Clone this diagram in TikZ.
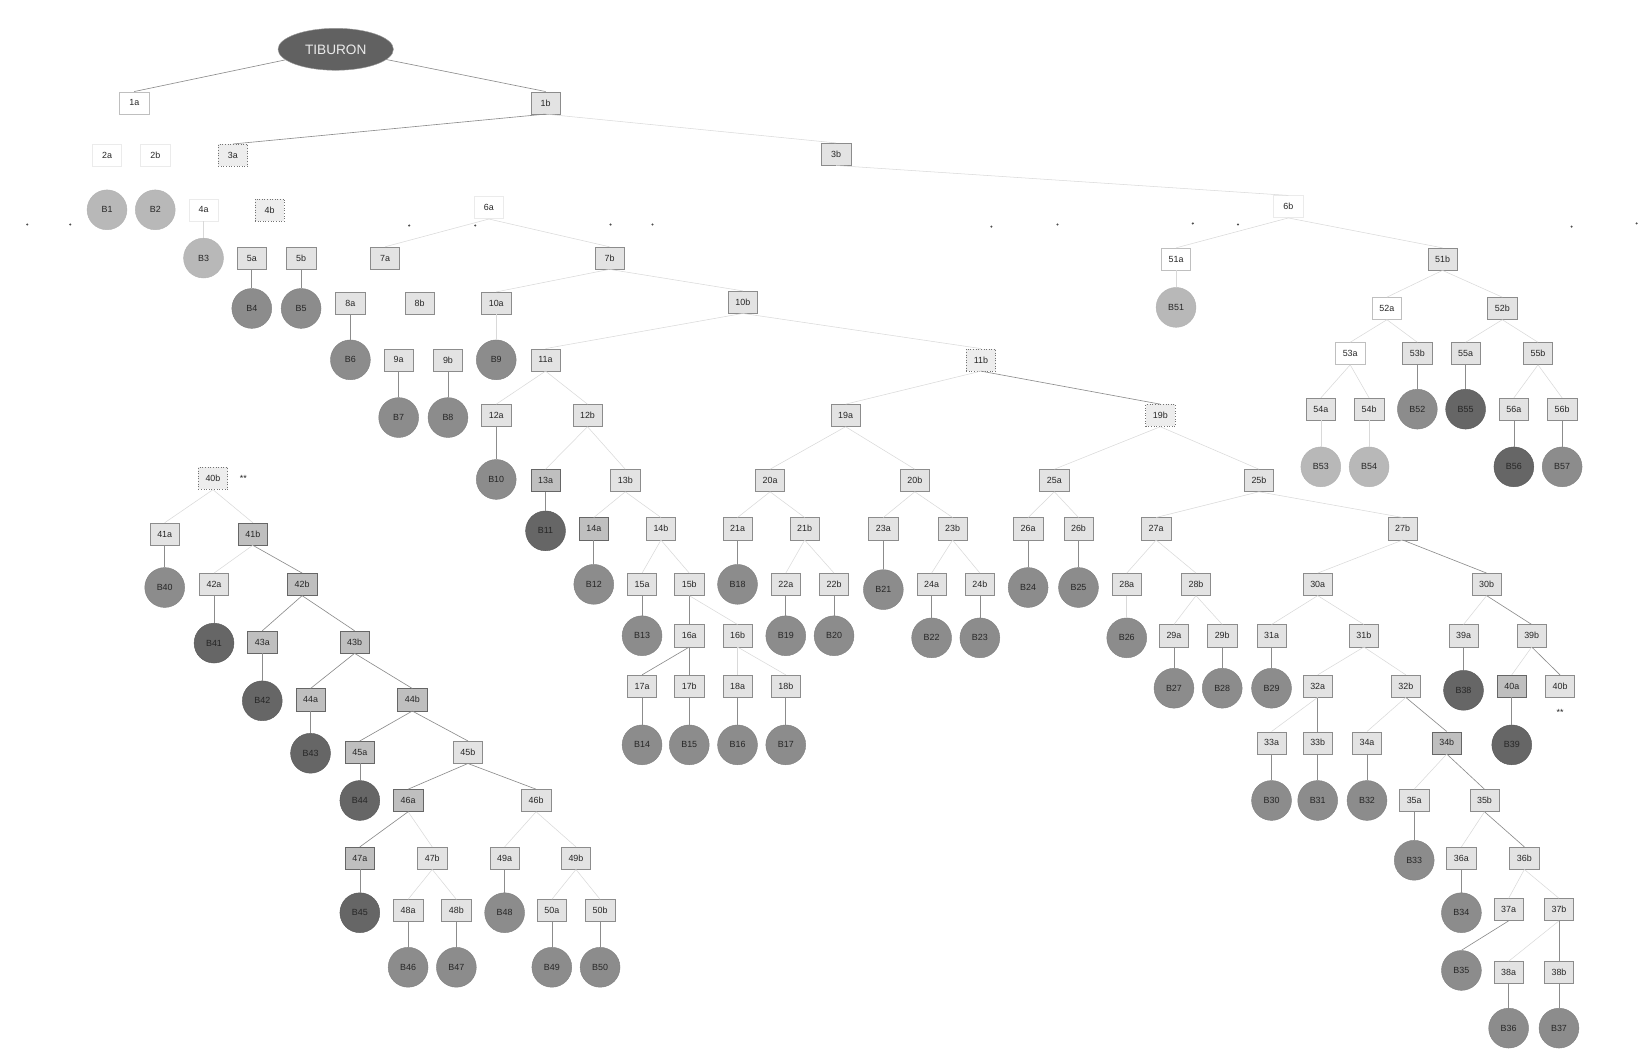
\documentclass[tikz,border=0pt]{standalone}
\usepackage{fontspec}
\setmainfont{Liberation Sans}
\usetikzlibrary{shapes.geometric}
\begin{document}
\begin{tikzpicture}[x=1pt,y=-1pt,
  lbl/.style={font=\fontsize{8.5}{9}\selectfont, text=black!85},
  bx/.style={lbl, rectangle, draw=black!45, fill=black!11, line width=0.5pt, minimum width=28pt, minimum height=21pt, inner sep=0pt},
  bxm/.style={bx, fill=black!25, draw=black!60},
  bxw/.style={bx, fill=white, draw=black!25},
  bxf/.style={bx, fill=white, draw=black!8},
  bxdot/.style={bx, fill=black!7, draw=black!55, dotted},
  leaf/.style={lbl, circle, minimum size=38pt, inner sep=0pt, fill=black!45, draw=black!50, line width=0.4pt},
  leafl/.style={leaf, fill=black!28, draw=black!30},
  leafd/.style={leaf, fill=black!60, draw=black!65},
  ln/.style={draw=black!15, line width=0.5pt},
  lnv/.style={draw=black!45, line width=0.6pt},
  dot/.style={circle, fill=black!70, inner sep=0pt, minimum size=2.2pt}]
\useasboundingbox[fill=white] (0,0) rectangle (1568,1001);
% root
\node[ellipse, fill=black!62, draw=black!40, minimum width=110pt, minimum height=40pt, inner sep=0pt,
  font=\fontsize{13}{14}\selectfont, text=black!8] (root) at (320,47) {TIBURON};
% boxes
\node[bxw] (n1a) at (128,98) {1a};
\node[bx] (n1b) at (520,98) {1b};
\node[bxf] (n2a) at (102,148) {2a};
\node[bxf] (n2b) at (148,148) {2b};
\node[bxdot] (n3a) at (222,148) {3a};
\node[bx] (n3b) at (797,147) {3b};
\node[bxf] (n4a) at (194,200) {4a};
\node[bxdot] (n4b) at (257,200) {4b};
\node[bx] (n5a) at (240,246) {5a};
\node[bx] (n5b) at (287,246) {5b};
\node[bxf] (n6a) at (466,198) {6a};
\node[bxf] (n6b) at (1228,197) {6b};
\node[bx] (n7a) at (367,246) {7a};
\node[bx] (n7b) at (581,246) {7b};
\node[bx] (n8a) at (334,289) {8a};
\node[bx] (n8b) at (400,289) {8b};
\node[bx] (n9a) at (380,343) {9a};
\node[bx] (n9b) at (427,343) {9b};
\node[bx] (n10a) at (473,289) {10a};
\node[bx] (n10b) at (708,288) {10b};
\node[bx] (n11a) at (520,343) {11a};
\node[bxdot] (n11b) at (935,343) {11b};
\node[bx] (n12a) at (473,396) {12a};
\node[bx] (n12b) at (560,396) {12b};
\node[bxm] (n13a) at (520,458) {13a};
\node[bx] (n13b) at (596,458) {13b};
\node[bxm] (n14a) at (566,504) {14a};
\node[bx] (n14b) at (630,504) {14b};
\node[bx] (n15a) at (612,557) {15a};
\node[bx] (n15b) at (657,557) {15b};
\node[bx] (n16a) at (657,606) {16a};
\node[bx] (n16b) at (703,606) {16b};
\node[bx] (n17a) at (612,654) {17a};
\node[bx] (n17b) at (657,654) {17b};
\node[bx] (n18a) at (703,654) {18a};
\node[bx] (n18b) at (749,654) {18b};
\node[bx] (n19a) at (806,396) {19a};
\node[bxdot] (n19b) at (1106,396) {19b};
\node[bx] (n20a) at (734,458) {20a};
\node[bx] (n20b) at (872,458) {20b};
\node[bx] (n21a) at (703,504) {21a};
\node[bx] (n21b) at (767,504) {21b};
\node[bx] (n22a) at (749,557) {22a};
\node[bx] (n22b) at (795,557) {22b};
\node[bx] (n23a) at (842,504) {23a};
\node[bx] (n23b) at (908,504) {23b};
\node[bx] (n24a) at (888,557) {24a};
\node[bx] (n24b) at (934,557) {24b};
\node[bx] (n25a) at (1005,458) {25a};
\node[bx] (n25b) at (1200,458) {25b};
\node[bx] (n26a) at (980,504) {26a};
\node[bx] (n26b) at (1028,504) {26b};
\node[bx] (n27a) at (1102,504) {27a};
\node[bx] (n27b) at (1337,504) {27b};
\node[bx] (n28a) at (1074,557) {28a};
\node[bx] (n28b) at (1140,557) {28b};
\node[bx] (n29a) at (1119,606) {29a};
\node[bx] (n29b) at (1165,606) {29b};
\node[bx] (n30a) at (1256,557) {30a};
\node[bx] (n30b) at (1417,557) {30b};
\node[bx] (n31a) at (1212,606) {31a};
\node[bx] (n31b) at (1300,606) {31b};
\node[bx] (n32a) at (1256,654) {32a};
\node[bx] (n32b) at (1340,654) {32b};
\node[bx] (n33a) at (1212,708) {33a};
\node[bx] (n33b) at (1256,708) {33b};
\node[bx] (n34a) at (1303,708) {34a};
\node[bxm] (n34b) at (1379,708) {34b};
\node[bx] (n35a) at (1348,763) {35a};
\node[bx] (n35b) at (1415,763) {35b};
\node[bx] (n36a) at (1393,818) {36a};
\node[bx] (n36b) at (1453,818) {36b};
\node[bx] (n37a) at (1438,867) {37a};
\node[bx] (n37b) at (1486,867) {37b};
\node[bx] (n38a) at (1438,927) {38a};
\node[bx] (n38b) at (1486,927) {38b};
\node[bx] (n39a) at (1395,606) {39a};
\node[bx] (n39b) at (1460,606) {39b};
\node[bxm] (n40a) at (1441,654) {40a};
\node[bx] (n40bR) at (1487,654) {40b};
\node[lbl] (starR) at (1487,679) {**};
\node[bxdot] (n40bL) at (203,456) {40b};
\node[lbl] (starL) at (232,456) {**};
\node[bx] (n41a) at (157,509) {41a};
\node[bxm] (n41b) at (241,509) {41b};
\node[bx] (n42a) at (204,557) {42a};
\node[bxm] (n42b) at (288,557) {42b};
\node[bxm] (n43a) at (250,612) {43a};
\node[bxm] (n43b) at (338,612) {43b};
\node[bxm] (n44a) at (296,667) {44a};
\node[bxm] (n44b) at (393,667) {44b};
\node[bxm] (n45a) at (343,717) {45a};
\node[bx] (n45b) at (446,717) {45b};
\node[bxm] (n46a) at (389,763) {46a};
\node[bx] (n46b) at (511,763) {46b};
\node[bxm] (n47a) at (343,818) {47a};
\node[bx] (n47b) at (412,818) {47b};
\node[bx] (n48a) at (389,868) {48a};
\node[bx] (n48b) at (435,868) {48b};
\node[bx] (n49a) at (481,818) {49a};
\node[bx] (n49b) at (549,818) {49b};
\node[bx] (n50a) at (526,868) {50a};
\node[bx] (n50b) at (572,868) {50b};
\node[bxw] (n51a) at (1121,247) {51a};
\node[bx] (n51b) at (1375,247) {51b};
\node[bxw] (n52a) at (1322,294) {52a};
\node[bx] (n52b) at (1432,294) {52b};
\node[bxw] (n53a) at (1287,337) {53a};
\node[bx] (n53b) at (1351,337) {53b};
\node[bx] (n54a) at (1259,390) {54a};
\node[bx] (n54b) at (1305,390) {54b};
\node[bx] (n55a) at (1397,337) {55a};
\node[bx] (n55b) at (1466,337) {55b};
\node[bx] (n56a) at (1443,390) {56a};
\node[bx] (n56b) at (1489,390) {56b};
% leaves
\node[leafl] (B1) at (102,200) {B1};
\node[leafl] (B2) at (148,200) {B2};
\node[leafl] (B3) at (194,246) {B3};
\node[leaf] (B4) at (240,294) {B4};
\node[leaf] (B5) at (287,294) {B5};
\node[leaf] (B6) at (334,343) {B6};
\node[leaf] (B7) at (380,398) {B7};
\node[leaf] (B8) at (427,398) {B8};
\node[leaf] (B9) at (473,343) {B9};
\node[leaf] (B10) at (473,457) {B10};
\node[leafd] (B11) at (520,506) {B11};
\node[leaf] (B12) at (566,557) {B12};
\node[leaf] (B13) at (612,606) {B13};
\node[leaf] (B14) at (612,710) {B14};
\node[leaf] (B15) at (657,710) {B15};
\node[leaf] (B16) at (703,710) {B16};
\node[leaf] (B17) at (749,710) {B17};
\node[leaf] (B18) at (703,557) {B18};
\node[leaf] (B19) at (749,606) {B19};
\node[leaf] (B20) at (795,606) {B20};
\node[leaf] (B21) at (842,562) {B21};
\node[leaf] (B22) at (888,608) {B22};
\node[leaf] (B23) at (934,608) {B23};
\node[leaf] (B24) at (980,560) {B24};
\node[leaf] (B25) at (1028,560) {B25};
\node[leaf] (B26) at (1074,608) {B26};
\node[leaf] (B27) at (1119,656) {B27};
\node[leaf] (B28) at (1165,656) {B28};
\node[leaf] (B29) at (1212,656) {B29};
\node[leaf] (B30) at (1212,763) {B30};
\node[leaf] (B31) at (1256,763) {B31};
\node[leaf] (B32) at (1303,763) {B32};
\node[leaf] (B33) at (1348,820) {B33};
\node[leaf] (B34) at (1393,870) {B34};
\node[leaf] (B35) at (1393,925) {B35};
\node[leaf] (B36) at (1438,980) {B36};
\node[leaf] (B37) at (1486,980) {B37};
\node[leafd] (B38) at (1395,658) {B38};
\node[leafd] (B39) at (1441,710) {B39};
\node[leaf] (B40) at (157,560) {B40};
\node[leafd] (B41) at (204,613) {B41};
\node[leafd] (B42) at (250,668) {B42};
\node[leafd] (B43) at (296,718) {B43};
\node[leafd] (B44) at (343,763) {B44};
\node[leafd] (B45) at (343,870) {B45};
\node[leaf] (B46) at (389,922) {B46};
\node[leaf] (B47) at (435,922) {B47};
\node[leaf] (B48) at (481,870) {B48};
\node[leaf] (B49) at (526,922) {B49};
\node[leaf] (B50) at (572,922) {B50};
\node[leafl] (B51) at (1121,293) {B51};
\node[leaf] (B52) at (1351,390) {B52};
\node[leafl] (B53) at (1259,445) {B53};
\node[leafl] (B54) at (1305,445) {B54};
\node[leafd] (B55) at (1397,390) {B55};
\node[leafd] (B56) at (1443,445) {B56};
\node[leaf] (B57) at (1489,445) {B57};
% dots
\foreach \i/\x/\y in {1/26/214,2/67/214,3/390/215,4/453/215,5/582/214,6/622/214,7/945/216,8/1008/214,9/1137/213,10/1180/214,11/1498/216,12/1560/213}
  \node[dot] (d\i) at (\x,\y) {};
% connectors
\draw[lnv] (root) -- (n1a.north);
\draw[lnv] (root) -- (n1b.north);
\foreach \a/\b in {n1b/n3a, n5a/B4, n5b/B5, n8a/B6, n9a/B7, n9b/B8, n12a/B10, n13a/B11, n14a/B12, n15a/B13, n15b/n16a, n16a/n17a, n16a/n17b, n17a/B14, n17b/B15, n18a/B16, n18b/B17, n11b/n19b, n21a/B18, n22a/B19, n22b/B20, n23a/B21, n24a/B22, n24b/B23, n26a/B24, n26b/B25, n29a/B27, n29b/B28, n31a/B29, n27b/n30b, n32a/n33b, n33a/B30, n33b/B31, n34a/B32, n32b/n34b, n34b/n35b, n35a/B33, n35b/n36b, n36a/B34, n37a/B35, n37b/n38b, n38a/B36, n38b/B37, n30b/n39b, n39a/B38, n39b/n40bR, n40a/B39, n41a/B40, n41b/n42b, n42a/B41, n42b/n43a, n42b/n43b, n43a/B42, n43b/n44a, n43b/n44b, n44a/B43, n44b/n45a, n44b/n45b, n45a/B44, n45b/n46a, n45b/n46b, n46a/n47a, n47a/B45, n48a/B46, n48b/B47, n49a/B48, n50a/B49, n50b/B50, n53b/B52, n55a/B55, n56a/B56, n56b/B57}
  \draw[lnv] (\a.south) -- (\b.north);
\foreach \a/\b in {n1b/n3b, n3b/n6b, n4a/B3, n6a/n7a, n6a/n7b, n7b/n10a, n7b/n10b, n10a/B9, n10b/n11a, n10b/n11b, n11a/n12a, n11a/n12b, n12b/n13a, n12b/n13b, n13b/n14a, n13b/n14b, n14b/n15a, n14b/n15b, n15b/n16b, n16b/n18a, n16b/n18b, n11b/n19a, n19a/n20a, n19a/n20b, n20a/n21a, n20a/n21b, n21b/n22a, n21b/n22b, n20b/n23a, n20b/n23b, n23b/n24a, n23b/n24b, n19b/n25a, n19b/n25b, n25a/n26a, n25a/n26b, n25b/n27a, n25b/n27b, n27a/n28a, n27a/n28b, n28a/B26, n28b/n29a, n28b/n29b, n27b/n30a, n30a/n31a, n30a/n31b, n31b/n32a, n31b/n32b, n32a/n33a, n32b/n34a, n34b/n35a, n35b/n36a, n36b/n37a, n36b/n37b, n37b/n38a, n30b/n39a, n39b/n40a, n40bL/n41a, n40bL/n41b, n41b/n42a, n46a/n47b, n47b/n48a, n47b/n48b, n46b/n49a, n46b/n49b, n49b/n50a, n49b/n50b, n6b/n51a, n6b/n51b, n51a/B51, n51b/n52a, n51b/n52b, n52a/n53a, n52a/n53b, n52b/n55a, n52b/n55b, n53a/n54a, n53a/n54b, n54a/B53, n54b/B54, n55b/n56a, n55b/n56b}
  \draw[ln] (\a.south) -- (\b.north);
\end{tikzpicture}
\end{document}
